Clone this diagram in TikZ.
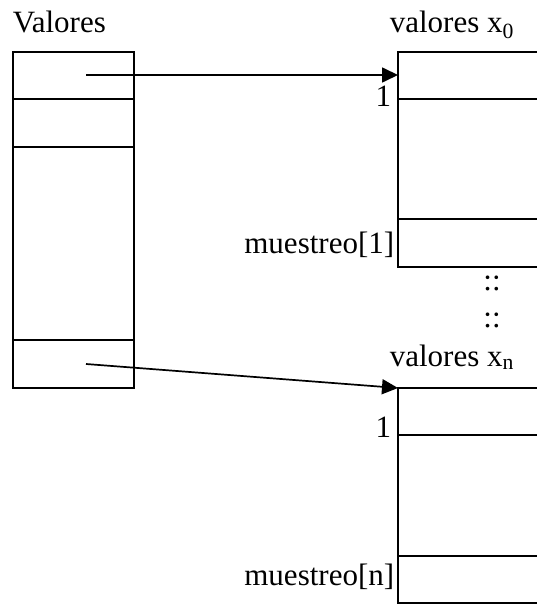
\documentclass[tikz,border=0pt]{standalone}
\usepackage{fontspec}
\setmainfont{Liberation Serif}
\usetikzlibrary{arrows.meta}

\begin{document}
\begin{tikzpicture}[x=1pt, y=-1pt, line width=1.7pt,
	font=\fontsize{31}{37}\selectfont,
	txt/.style={inner sep=0pt},
	ptr/.style={-{Triangle[length=16pt,width=15pt]}}]
	\useasboundingbox (0,0) rectangle (536,604);
	% tabla Valores
	\node [txt, anchor=base west] (valores) at (12,33) {Valores};
	\draw (13,52) rectangle (134,388);
	\draw (13,99) -- (134,99);
	\draw (13,147) -- (134,147);
	\draw (13,340) -- (134,340);
	\coordinate (v0) at (86,75);
	\coordinate (vn) at (86,364);
	% tabla valores x0
	\node [txt, anchor=base west] (tit0) at (389,33) {valores x\textsubscript{0}};
	\draw (545,52) -- (398,52) -- (398,267) -- (545,267);
	\draw (398,99) -- (545,99);
	\draw (398,219) -- (545,219);
	\coordinate (x0) at (398,75);
	\node [txt, anchor=base east] (uno0) at (392,107) {1};
	\node [txt, anchor=base east] (m0) at (395,253) {muestreo[1]};
	% puntos
	\node [txt, anchor=base] (p1) at (492,290) {::};
	\node [txt, anchor=base] (p2) at (492,327) {::};
	% tabla valores xn
	\node [txt, anchor=base west] (titn) at (389,366) {valores x\textsubscript{n}};
	\draw (545,388) -- (398,388) -- (398,603) -- (545,603);
	\draw (398,435) -- (545,435);
	\draw (398,556) -- (545,556);
	\coordinate (xn) at (398,388);
	\node [txt, anchor=base east] (unon) at (392,437) {1};
	\node [txt, anchor=base east] (mn) at (395,585) {muestreo[n]};
	% punteros
	\draw [ptr] (v0) -- (x0);
	\draw [ptr] (vn) -- (xn);
\end{tikzpicture}
\end{document}
